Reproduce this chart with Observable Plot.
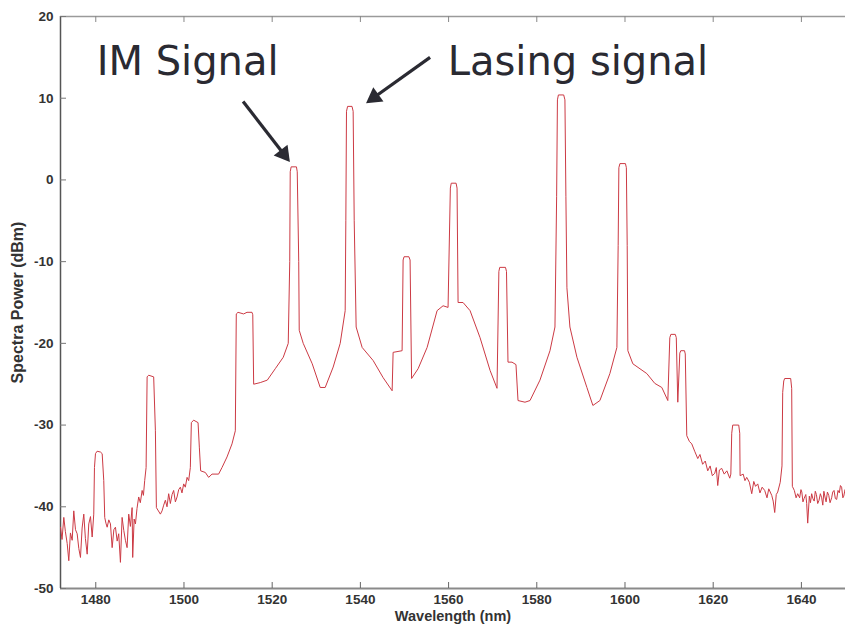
<!DOCTYPE html>
<html>
<head>
<meta charset="utf-8">
<script src="https://cdn.jsdelivr.net/npm/d3@7"></script>
<script src="https://cdn.jsdelivr.net/npm/@observablehq/plot@0.6"></script>
<style>
  body { margin: 0; background: #fff; }
  #chart svg { display: block; }
</style>
</head>
<body>
<div id="chart"></div>
<script>
// Optical spectrum of the multiwavelength laser output (wavelength in nm, power in dBm)
const wavelengthNm = [
  1472.00, 1472.35, 1472.75, 1473.10, 1473.52, 1473.88, 1474.25, 1474.65, 1475.01, 1475.40, 1475.78, 1476.15,
  1476.53, 1476.90, 1477.28, 1477.65, 1478.05, 1478.41, 1478.80, 1479.18, 1479.54,
  1479.70, 1479.93, 1480.30, 1481.06, 1481.45, 1481.81, 1482.03,
  1482.30, 1482.58, 1482.95, 1483.33, 1483.71, 1484.10, 1484.46, 1484.85, 1485.20, 1485.59, 1485.97, 1486.35,
  1486.72, 1487.10, 1487.47, 1487.85, 1488.24, 1488.37, 1488.70, 1488.99, 1489.35, 1489.73, 1490.10, 1490.51,
  1490.80, 1491.09, 1491.41,
  1491.64, 1492.00, 1493.13, 1493.52, 1493.74,
  1494.65, 1495.03, 1495.40, 1495.78, 1496.15, 1496.53, 1496.91, 1497.30, 1497.66, 1498.05, 1498.43, 1498.80,
  1499.18, 1499.55, 1499.93, 1500.30, 1500.70, 1501.06, 1501.44,
  1501.67, 1502.19, 1503.19, 1503.48, 1503.78,
  1504.84, 1505.59, 1506.36, 1507.85, 1508.62, 1509.76, 1510.89, 1511.64,
  1511.86, 1512.25, 1513.52, 1514.29, 1515.42, 1515.60, 1515.80,
  1517.30, 1518.89, 1520.70, 1522.51, 1523.64,
  1523.98, 1524.09, 1524.30, 1525.50, 1525.68, 1526.02, 1526.13,
  1527.04, 1529.08, 1530.89, 1532.02, 1533.83, 1535.42, 1536.55,
  1536.70, 1536.85, 1537.10, 1538.10, 1538.36, 1538.60, 1539.04,
  1540.40, 1542.89, 1545.16, 1547.20, 1547.42, 1549.46,
  1549.69, 1549.90, 1551.00, 1551.27, 1551.61,
  1553.09, 1555.13, 1557.39, 1558.75, 1559.88,
  1560.40, 1560.60, 1561.70, 1561.92, 1562.15,
  1563.28, 1564.87, 1567.13, 1569.40, 1570.98,
  1571.40, 1571.60, 1572.90, 1573.13, 1573.47,
  1574.38, 1575.28, 1575.74, 1577.32, 1578.46, 1580.72, 1582.99, 1584.12,
  1584.50, 1584.68, 1584.90, 1586.10, 1586.38, 1586.60, 1586.83,
  1587.51, 1589.10, 1591.36, 1592.72, 1594.31, 1596.57, 1598.16,
  1598.45, 1598.61, 1598.85, 1600.10, 1600.31, 1600.50, 1600.65,
  1601.78, 1604.95, 1606.76, 1608.35, 1609.71,
  1610.16, 1610.40, 1611.40, 1611.63, 1611.97,
  1612.43, 1612.65, 1613.50, 1613.67, 1614.01,
  1614.60, 1615.14, 1615.80, 1616.50, 1617.00, 1617.60, 1618.20, 1618.76, 1619.30, 1619.80, 1620.35, 1620.70,
  1621.03, 1621.40, 1621.93, 1622.50, 1623.10, 1623.75, 1624.00,
  1624.20, 1624.43, 1625.79, 1626.02, 1626.10,
  1626.80, 1627.20, 1627.60, 1628.20, 1628.74, 1629.20, 1629.60, 1630.10, 1630.60, 1631.10, 1631.68, 1632.20,
  1632.60, 1633.27, 1633.60, 1633.95, 1634.30, 1634.63, 1635.20, 1635.60,
  1635.76, 1636.00, 1636.21, 1637.57, 1637.80, 1637.95,
  1638.40, 1638.80, 1639.16, 1639.60, 1639.90, 1640.10, 1640.35, 1640.60, 1641.00, 1641.20, 1641.43, 1641.80,
  1642.05, 1642.33, 1642.60, 1642.90, 1643.15, 1643.40, 1643.70, 1644.00, 1644.30, 1644.60, 1644.85, 1645.10,
  1645.35, 1645.60, 1645.90, 1646.20, 1646.50, 1646.86, 1647.10, 1647.40, 1647.70, 1648.00, 1648.30, 1648.60,
  1648.85, 1649.12, 1649.40, 1649.60, 1649.90, 1650.20
];
const powerDbm = [
  -42.5, -44.0, -41.3, -43.0, -44.5, -46.6, -43.2, -44.1, -40.5, -42.8, -43.3, -45.1,
  -46.2, -42.6, -40.9, -43.9, -45.8, -42.1, -41.2, -43.7, -40.9,
  -35.2, -33.5, -33.2, -33.3, -33.5, -36.8, -41.3,
  -42.0, -42.5, -41.6, -42.1, -45.0, -42.8, -42.5, -44.2, -43.3, -46.8, -41.3, -42.9,
  -44.1, -45.0, -40.9, -42.4, -40.1, -46.2, -41.5, -42.1, -40.2, -38.8, -39.5, -38.0,
  -38.6, -36.8, -35.2,
  -24.1, -23.9, -24.1, -30.7, -40.1,
  -40.9, -40.5, -39.8, -39.2, -40.0, -38.4, -39.6, -38.5, -38.0, -39.4, -38.8, -37.9,
  -37.6, -38.3, -37.2, -37.6, -36.4, -36.8, -35.2,
  -29.7, -29.4, -29.7, -32.7, -35.6,
  -35.8, -36.4, -36.0, -36.0, -35.2, -33.9, -32.3, -30.7,
  -16.4, -16.2, -16.4, -16.2, -16.2, -16.5, -25.0,
  -24.8, -24.5, -23.1, -21.7, -20.0,
  -10.0, 1.0, 1.6, 1.6, 1.0, -10.0, -18.4,
  -20.0, -22.5, -25.4, -25.4, -22.9, -20.0, -16.0,
  -5.0, 8.4, 9.0, 9.0, 8.4, -5.0, -18.0,
  -20.5, -22.1, -24.2, -25.8, -21.1, -20.9,
  -9.8, -9.4, -9.4, -9.8, -24.3,
  -23.1, -20.5, -16.0, -15.4, -15.6,
  -1.0, -0.4, -0.4, -1.0, -15.0,
  -15.0, -16.0, -19.3, -23.3, -25.5,
  -11.2, -10.7, -10.7, -11.2, -22.3,
  -22.3, -22.6, -27.0, -27.2, -27.0, -24.5, -20.9, -18.0,
  -2.0, 9.8, 10.4, 10.4, 9.8, -2.0, -13.2,
  -18.0, -21.7, -25.4, -27.6, -27.0, -23.7, -20.5,
  -8.0, 1.5, 2.0, 2.0, 1.5, -8.0, -20.9,
  -22.5, -23.7, -24.9, -25.4, -27.0,
  -19.3, -18.9, -18.9, -19.3, -27.2,
  -21.2, -20.9, -20.9, -21.3, -31.3,
  -32.0, -32.3, -33.2, -34.1, -33.6, -34.8, -34.4, -35.6, -35.0, -36.2, -35.9, -35.2,
  -37.4, -35.5, -35.3, -36.0, -35.6, -36.5, -36.0,
  -31.0, -30.0, -30.0, -31.0, -36.2,
  -36.0, -36.8, -36.4, -37.0, -38.4, -36.9, -37.5, -37.2, -38.3, -37.6, -38.0, -38.9,
  -37.8, -38.6, -39.3, -40.7, -38.5, -38.2, -37.0, -35.0,
  -26.0, -24.6, -24.3, -24.3, -25.5, -37.5,
  -38.0, -38.9, -38.4, -38.9, -37.9, -38.2, -39.4, -39.0, -38.5, -39.6, -42.0, -38.7,
  -39.5, -38.4, -39.0, -39.3, -38.1, -38.5, -39.6, -39.2, -38.4, -38.9, -39.8, -38.1,
  -38.8, -39.4, -38.2, -38.6, -39.5, -38.9, -38.2, -38.0, -39.0, -39.1, -38.0, -38.3,
  -37.4, -37.6, -38.9, -38.7, -37.9, -38.4
];

const xTickValues = [1480, 1500, 1520, 1540, 1560, 1580, 1600, 1620, 1640];
const yTickValues = [-50, -40, -30, -20, -10, 0, 10, 20];

// Annotation labels and their arrows (data coordinates)
const noteLabels = ["IM Signal", "Lasing signal"];
const noteX = [1480.2, 1559.8];
const noteY = [14.4, 14.4];
const arrowX1 = [1513.4, 1555.8];
const arrowY1 = [9.6, 15.0];
const arrowX2 = [1524.0, 1541.3];
const arrowY2 = [2.2, 9.4];

const W = 845, H = 635;
const mL = 60, mR = 0, mT = 16, mB = 47;
const frameW = W - mL - mR, frameH = H - mT - mB;
const tickLen = 6;
const headR = 6.5;          // arrowhead symbol radius
const headBack = 10;        // tip-to-centroid distance of that triangle, px
const axisFont = "Liberation Sans, Arial, sans-serif";
const xDomain = [1472, 1650], yDomain = [-50, 20];

const trace = wavelengthNm.map((w, i) => ({wavelength: w, power: powerDbm[i]}));
const notes = noteLabels.map((label, i) => ({label, x: noteX[i], y: noteY[i]}));

// Scales identical to the plot's, used to orient the filled arrowheads
const sx = Plot.scale({x: {domain: xDomain, range: [mL, W - mR]}});
const sy = Plot.scale({y: {domain: yDomain, range: [H - mB, mT]}});
const arrows = arrowX1.map((x1, i) => {
  const px1 = sx.apply(x1), py1 = sy.apply(arrowY1[i]);
  const px2 = sx.apply(arrowX2[i]), py2 = sy.apply(arrowY2[i]);
  const dx = px2 - px1, dy = py2 - py1, len = Math.hypot(dx, dy);
  const cx = px2 - dx / len * headBack, cy = py2 - dy / len * headBack;
  return {
    x1, y1: arrowY1[i],
    hx: sx.invert(cx), hy: sy.invert(cy),
    angle: Math.atan2(dx, -dy) * 180 / Math.PI
  };
});

const chart = Plot.plot({
  width: W,
  height: H,
  marginLeft: mL,
  marginRight: mR,
  marginTop: mT,
  marginBottom: mB,
  style: {background: "#fff", overflow: "visible"},
  x: {domain: xDomain},
  y: {domain: yDomain},
  marks: [
    // frame lines
    Plot.ruleY([20], {stroke: "#9a9a9a", strokeWidth: 1.5}),
    Plot.ruleY([-50], {stroke: "#8a8a8a", strokeWidth: 2}),
    Plot.ruleX([1472], {stroke: "#555", strokeWidth: 1.5}),
    // inward tick marks
    Plot.ruleX(xTickValues, {insetTop: frameH - tickLen, stroke: "#666"}),
    Plot.ruleX(xTickValues, {insetBottom: frameH - tickLen, stroke: "#888"}),
    Plot.ruleY(yTickValues, {insetRight: frameW - tickLen, stroke: "#777"}),
    // axes
    Plot.axisX({
      ticks: xTickValues, tickSize: 0, tickPadding: 6, tickFormat: d => String(d),
      label: null, fontSize: 13.5, fontWeight: "bold", fontFamily: axisFont, fill: "#333"
    }),
    Plot.axisY({
      ticks: yTickValues, tickSize: 0, tickPadding: 7, tickFormat: d => String(d),
      label: null, fontSize: 13.5, fontWeight: "bold", fontFamily: axisFont, fill: "#333"
    }),
    Plot.text(["Wavelength (nm)"], {
      frameAnchor: "bottom", dy: 32, fontSize: 14.5, fontWeight: "bold",
      fontFamily: axisFont, fill: "#333"
    }),
    Plot.text(["Spectra Power (dBm)"], {
      frameAnchor: "left", textAnchor: "middle", dx: -43, rotate: -90, fontSize: 16,
      fontWeight: "bold", fontFamily: axisFont, fill: "#333"
    }),
    // spectrum trace
    Plot.line(trace, {
      x: "wavelength", y: "power", stroke: "#cc3a44", strokeWidth: 1, clip: true
    }),
    // annotations
    Plot.text(notes, {
      x: "x", y: "y", text: "label", textAnchor: "start", fontSize: 40,
      fontFamily: "DejaVu Sans, Verdana, sans-serif", fill: "#2a2a32"
    }),
    Plot.link(arrows, {
      x1: "x1", y1: "y1", x2: "hx", y2: "hy", stroke: "#2a2a32", strokeWidth: 3.2
    }),
    Plot.dot(arrows, {
      x: "hx", y: "hy", symbol: "triangle", r: headR, rotate: "angle",
      fill: "#2a2a32", stroke: "none"
    })
  ]
});

document.getElementById("chart").appendChild(chart);
</script>
</body>
</html>
